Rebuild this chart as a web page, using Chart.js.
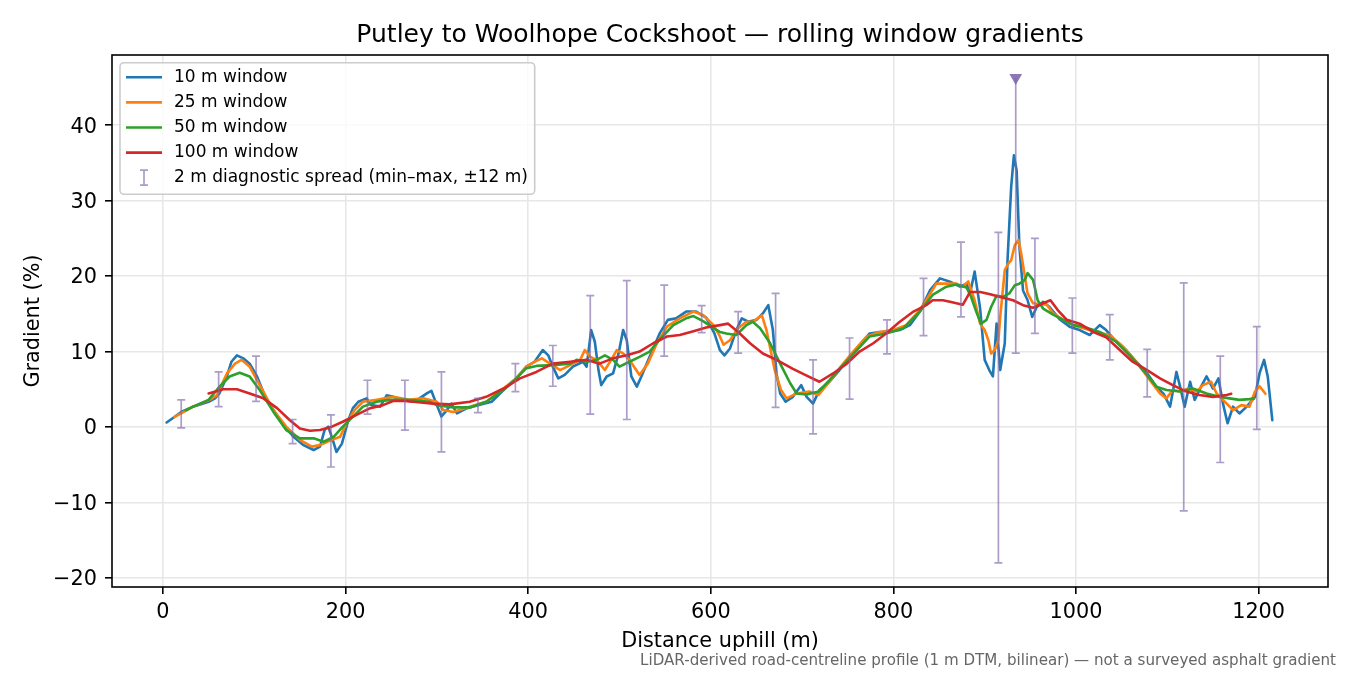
<!DOCTYPE html>
<html>
<head>
<meta charset="utf-8">
<script src="https://cdn.jsdelivr.net/npm/chart.js@4.4.1/dist/chart.umd.min.js"></script>
<style>
  html, body { margin: 0; padding: 0; background: #fff; }
  #wrap { width: 1350px; height: 675px; position: relative; }
</style>
</head>
<body>
<div id="wrap"><canvas id="grad"></canvas></div>
<script>
// distance (m), gradient (%)
const win10 = [[4,0.6],[11,1.2],[20,2.0],[33,2.7],[50,3.35],[57,3.8],[62,4.5],[70,6.7],[75,8.65],[81,9.5],[88,9.1],[95,8.4],[103,6.7],[112,4.0],[121,2.25],[132,0.3],[143,-1.3],[154,-2.4],[165,-3.05],[172,-2.6],[177,-0.4],[181,0.05],[186,-1.7],[190,-3.3],[196,-2.2],[203,0.9],[208,2.5],[214,3.35],[223,3.8],[228,2.9],[238,2.7],[245,4.2],[252,4.0],[263,3.6],[274,3.35],[281,3.8],[289,4.45],[294,4.8],[299,3.2],[305,1.4],[311,2.25],[316,3.1],[322,1.8],[333,2.5],[345,2.9],[360,3.35],[373,4.9],[387,6.45],[398,8.0],[407,8.65],[416,10.2],[422,9.5],[427,8.0],[433,6.45],[440,6.9],[449,8.0],[460,8.65],[464,8.0],[469,12.85],[473,11.3],[477,7.55],[480,5.55],[486,6.7],[493,7.1],[499,9.75],[504,12.85],[508,11.5],[513,6.7],[519,5.35],[524,6.7],[533,9.3],[544,12.4],[553,14.2],[562,14.4],[573,15.3],[584,15.3],[595,14.5],[604,12.4],[610,10.2],[615,9.5],[621,10.4],[628,12.85],[634,14.4],[641,13.95],[650,14.2],[657,15.05],[663,16.15],[668,12.85],[672,7.1],[676,4.45],[682,3.35],[690,4.0],[699,5.55],[705,4.0],[712,3.1],[719,4.9],[730,6.0],[741,7.55],[752,9.3],[763,10.9],[774,12.4],[785,12.6],[796,12.6],[807,12.85],[818,13.5],[829,15.3],[840,18.1],[851,19.7],[862,19.25],[873,18.6],[880,19.0],[884,17.7],[889,20.6],[895,15.7],[900,8.9],[905,7.55],[909,6.7],[913,13.7],[917,7.55],[922,11.1],[925,22.1],[929,31.8],[932,36.0],[935,34.0],[938,23.9],[942,18.1],[947,16.8],[952,14.6],[957,15.9],[964,16.6],[971,15.9],[982,14.3],[993,13.3],[1004,12.85],[1015,12.2],[1026,13.5],[1033,12.85],[1044,11.3],[1055,10.2],[1066,8.65],[1077,7.3],[1088,5.35],[1096,4.4],[1103,2.7],[1110,7.3],[1114,5.35],[1119,2.7],[1125,6.0],[1130,3.6],[1137,5.35],[1143,6.7],[1150,5.1],[1156,6.45],[1161,3.1],[1166,0.5],[1172,2.7],[1179,1.8],[1187,2.7],[1196,4.0],[1201,7.1],[1206,8.9],[1210,6.7],[1215,0.9]];
const win25 = [[12.5,1.3],[33,2.7],[51,3.6],[59,4.2],[70,7.1],[79,8.4],[86,8.9],[95,8.0],[106,5.55],[121,2.25],[135,0.05],[150,-1.7],[163,-2.6],[172,-2.4],[185,-1.7],[194,-1.3],[201,0.5],[210,2.25],[219,3.35],[234,3.6],[252,4.0],[270,3.6],[285,3.8],[300,3.35],[307,2.25],[318,2.0],[336,2.7],[354,3.35],[373,5.1],[387,6.45],[398,8.0],[407,8.65],[415,9.1],[424,8.4],[435,7.55],[446,8.2],[457,8.9],[462,10.2],[468,9.3],[475,8.9],[484,7.55],[491,8.9],[497,10.2],[504,9.75],[511,8.9],[517,7.8],[522,6.9],[531,8.4],[541,11.1],[552,13.3],[566,14.4],[581,15.3],[592,14.8],[603,13.5],[610,12.0],[614,10.9],[621,11.5],[630,13.1],[639,13.95],[646,13.95],[656,14.8],[661,12.85],[670,7.55],[677,4.9],[683,3.8],[694,4.45],[708,4.7],[718,4.25],[730,6.0],[741,7.8],[756,10.0],[771,12.0],[785,12.6],[800,12.85],[814,13.5],[829,15.5],[840,17.6],[847,19.0],[858,19.0],[869,19.0],[876,18.6],[882,19.3],[889,16.8],[895,13.7],[900,12.85],[904,11.5],[907,9.75],[911,10.2],[915,11.5],[917,14.6],[922,20.8],[926,21.7],[929,22.1],[933,24.1],[937,24.8],[940,23.0],[944,19.9],[947,17.7],[953,16.4],[960,16.3],[968,16.2],[975,15.05],[986,14.2],[997,13.5],[1008,13.1],[1022,12.6],[1037,12.2],[1052,10.6],[1066,8.65],[1081,6.2],[1092,4.45],[1099,3.8],[1106,4.9],[1114,4.7],[1123,5.1],[1132,4.7],[1139,5.55],[1148,6.0],[1154,4.45],[1163,3.35],[1172,2.25],[1181,2.9],[1190,2.7],[1196,4.7],[1201,5.4],[1207.5,4.4]];
const win50 = [[25,2.2],[33,2.7],[50,3.6],[62,5.35],[73,6.7],[84,7.2],[95,6.7],[106,4.9],[121,2.0],[135,-0.4],[150,-1.5],[165,-1.5],[176,-1.95],[187,-1.3],[197,0.05],[208,1.35],[219,2.7],[234,3.35],[249,3.6],[270,3.6],[292,3.35],[300,2.9],[318,2.6],[336,2.6],[354,3.35],[373,4.9],[387,6.45],[398,7.8],[409,8.1],[427,8.2],[446,8.4],[453,8.9],[464,8.65],[475,8.9],[484,9.5],[493,8.9],[500,8.0],[511,8.65],[522,9.3],[533,10.0],[544,11.6],[559,13.5],[573,14.4],[581,14.7],[592,14.0],[603,13.1],[610,12.6],[617,12.4],[628,12.2],[639,13.5],[646,13.95],[654,13.1],[665,11.1],[676,8.4],[687,5.8],[694,4.45],[705,4.3],[718,4.7],[730,6.2],[745,8.2],[760,10.2],[774,12.0],[792,12.4],[811,13.1],[829,15.3],[843,17.5],[858,18.6],[869,18.9],[880,18.5],[885,17.3],[891,15.2],[896,13.7],[902,14.2],[907,15.9],[913,17.4],[920,17.25],[927,17.7],[933,18.8],[938,19.0],[944,19.5],[947,20.4],[953,19.5],[958,16.8],[964,15.7],[975,14.9],[986,14.2],[997,13.5],[1008,13.3],[1026,12.6],[1044,11.3],[1062,9.1],[1077,7.05],[1088,5.35],[1099,4.9],[1114,4.7],[1128,5.1],[1143,4.45],[1157,4.0],[1168,3.8],[1179,3.6],[1190,3.7],[1195,3.8]];
const win100 = [[50,4.45],[66,5.0],[81,5.0],[95,4.45],[110,3.8],[125,2.5],[139,0.9],[150,-0.2],[161,-0.5],[172,-0.4],[185,0.05],[197,0.7],[212,1.6],[227,2.5],[241,2.9],[252,3.45],[265,3.45],[274,3.35],[296,3.1],[314,3.0],[336,3.35],[354,4.0],[373,5.1],[391,6.45],[409,7.3],[427,8.4],[446,8.65],[464,8.9],[478,8.4],[493,9.1],[508,9.5],[522,10.0],[537,11.1],[552,12.0],[566,12.2],[581,12.7],[595,13.2],[610,13.5],[619,13.7],[630,12.6],[643,11.1],[657,9.75],[672,8.9],[690,7.7],[705,6.8],[719,6.0],[734,7.1],[749,8.4],[763,10.0],[778,11.1],[792,12.4],[807,13.95],[822,15.3],[836,16.15],[843,16.8],[854,16.8],[862,16.6],[869,16.4],[876,16.2],[884,17.9],[895,17.9],[906,17.6],[916,17.25],[931,16.8],[942,16.15],[953,15.8],[964,16.4],[972,16.8],[980,15.5],[990,14.2],[1004,13.7],[1019,12.6],[1033,11.9],[1048,10.2],[1062,8.65],[1077,7.6],[1092,6.45],[1106,5.55],[1121,4.7],[1135,4.25],[1150,4.0],[1165,4.25],[1170,4.4]];

// 2 m diagnostic spread, min and max over +-12 m
const spreadDist = [20, 61, 102, 142, 184, 224, 265, 305, 345, 386, 427, 468, 508, 549, 590, 630, 671, 712, 752, 793, 833, 874, 915, 955, 996, 1037, 1078, 1118, 1158, 1198];
const spreadMin  = [-0.1, 2.7, 3.4, -2.2, -5.3, 1.7, -0.4, -3.3, 1.9, 4.7, 5.4, 1.7, 1.0, 9.4, 12.5, 9.8, 2.6, -0.9, 3.7, 9.7, 12.1, 14.6, -18.0, 12.4, 9.8, 8.9, 4.0, -11.1, -4.7, -0.3];
const spreadMax  = [3.6, 7.3, 9.4, 1.0, 1.6, 6.2, 6.2, 7.3, 3.8, 8.4, 10.8, 17.4, 19.4, 18.8, 16.1, 15.3, 17.7, 8.9, 11.8, 14.2, 19.7, 24.5, 25.8, 25.0, 17.1, 14.9, 10.3, 19.1, 9.4, 13.3];
// spread running off the top of the plot
const spikeDist = 934, spikeMin = 9.8, spikeMark = 46.3;

const xTickVals = [0, 200, 400, 600, 800, 1000, 1200];
const yTickVals = [-20, -10, 0, 10, 20, 30, 40];

const seriesNames = ['10 m window', '25 m window', '50 m window', '100 m window'];
const seriesColors = ['#1f77b4', '#ff7f0e', '#2ca02c', '#d62728'];
const spreadLabel = '2 m diagnostic spread (min\u2013max, \u00b112 m)';
const spreadColor = 'rgba(128,105,170,0.65)';

const FONT = "'DejaVu Sans', sans-serif";
Chart.defaults.font.family = FONT;

const toPts = arr => arr.map(p => ({x: p[0], y: p[1]}));

// draw the min-max spread bars on top of the lines
const spreadBars = {
    id: 'spreadBars',
    afterDatasetsDraw(chart) {
        const {ctx, chartArea: a, scales: {x, y}} = chart;
        const cap = 4;
        ctx.save();
        ctx.beginPath();
        ctx.rect(a.left, a.top, a.width, a.height);
        ctx.clip();
        ctx.strokeStyle = spreadColor;
        ctx.lineWidth = 1.7;
        ctx.beginPath();
        spreadDist.forEach((d, i) => {
            const px = x.getPixelForValue(d);
            const lo = y.getPixelForValue(spreadMin[i]);
            const hi = y.getPixelForValue(spreadMax[i]);
            ctx.moveTo(px, lo); ctx.lineTo(px, hi);
            ctx.moveTo(px - cap, lo); ctx.lineTo(px + cap, lo);
            ctx.moveTo(px - cap, hi); ctx.lineTo(px + cap, hi);
        });
        const sx = x.getPixelForValue(spikeDist);
        const slo = y.getPixelForValue(spikeMin);
        ctx.moveTo(sx, slo); ctx.lineTo(sx, y.getPixelForValue(spikeMark));
        ctx.moveTo(sx - cap, slo); ctx.lineTo(sx + cap, slo);
        ctx.stroke();
        ctx.restore();
    }
};

// frame, title, labels, legend, note
const decorations = {
    id: 'decorations',
    afterDraw(chart) {
        const {ctx, chartArea: a} = chart;
        ctx.save();
        ctx.strokeStyle = '#000';
        ctx.lineWidth = 1.6;
        ctx.strokeRect(a.left, a.top, a.width, a.height);

        const cx = (a.left + a.right) / 2;
        ctx.fillStyle = '#000';
        ctx.textAlign = 'center';
        ctx.textBaseline = 'alphabetic';
        ctx.font = '25px ' + FONT;
        ctx.fillText('Putley to Woolhope Cockshoot \u2014 rolling window gradients', cx, 42);

        ctx.font = '20.8px ' + FONT;
        ctx.fillText('Distance uphill (m)', cx, 647);
        ctx.save();
        ctx.translate(34, (a.top + a.bottom) / 2);
        ctx.rotate(-Math.PI / 2);
        ctx.textBaseline = 'middle';
        ctx.fillText('Gradient (%)', 0, 0);
        ctx.restore();

        ctx.fillStyle = '#666';
        ctx.textAlign = 'right';
        ctx.font = '15.1px ' + FONT;
        ctx.fillText('LiDAR-derived road-centreline profile (1 m DTM, bilinear) \u2014 not a surveyed asphalt gradient', 1336, 665);

        // legend box
        const bx = 120, by = 62.7, bw = 414.7, bh = 131.6;
        ctx.fillStyle = 'rgba(255,255,255,0.8)';
        ctx.strokeStyle = '#cccccc';
        ctx.lineWidth = 1.6;
        ctx.beginPath();
        ctx.roundRect(bx, by, bw, bh, 4);
        ctx.fill();
        ctx.stroke();

        ctx.font = '17px ' + FONT;
        ctx.textAlign = 'left';
        ctx.textBaseline = 'middle';
        const rowY = i => 77.3 + i * 25.1;
        seriesNames.forEach((name, i) => {
            ctx.strokeStyle = seriesColors[i];
            ctx.lineWidth = 2.6;
            ctx.beginPath();
            ctx.moveTo(126, rowY(i)); ctx.lineTo(162, rowY(i));
            ctx.stroke();
            ctx.fillStyle = '#000';
            ctx.fillText(name, 174, rowY(i));
        });
        const ey = rowY(4);
        ctx.strokeStyle = spreadColor;
        ctx.lineWidth = 1.7;
        ctx.beginPath();
        ctx.moveTo(144, ey - 7.5); ctx.lineTo(144, ey + 7.5);
        ctx.moveTo(140, ey - 7.5); ctx.lineTo(148, ey - 7.5);
        ctx.moveTo(140, ey + 7.5); ctx.lineTo(148, ey + 7.5);
        ctx.stroke();
        ctx.fillStyle = '#000';
        ctx.fillText(spreadLabel, 174, ey);
        ctx.restore();
    }
};

const lineSets = [win10, win25, win50, win100].map((s, i) => ({
    type: 'line',
    label: seriesNames[i],
    data: toPts(s),
    borderColor: seriesColors[i],
    backgroundColor: seriesColors[i],
    borderWidth: 2.6,
    borderJoinStyle: 'round',
    borderCapStyle: 'round',
    pointRadius: 0,
    tension: 0,
    fill: false,
    order: 4 - i
}));

const spikeSet = {
    type: 'scatter',
    label: 'spike',
    data: [{x: spikeDist, y: spikeMark}],
    pointStyle: 'triangle',
    rotation: 180,
    pointRadius: 7.3,
    backgroundColor: 'rgba(128,105,170,0.9)',
    borderColor: 'rgba(128,105,170,0.9)',
    borderWidth: 0,
    order: 0
};

const grid = {
    color: '#e7e7e7',
    lineWidth: 1.6,
    drawTicks: true,
    tickLength: 7,
    tickColor: '#000',
    tickWidth: 1.6
};

new Chart(document.getElementById('grad'), {
    type: 'line',
    data: { datasets: [...lineSets, spikeSet] },
    options: {
        responsive: true,
        maintainAspectRatio: false,
        animation: false,
        layout: { padding: { top: 55, right: 22, left: 0, bottom: 0 } },
        plugins: {
            legend: { display: false },
            tooltip: { enabled: false },
            title: { display: false }
        },
        scales: {
            x: {
                type: 'linear',
                min: -55.8,
                max: 1276,
                grid: grid,
                border: { display: false },
                afterBuildTicks: s => { s.ticks = xTickVals.map(v => ({value: v})); },
                afterFit: s => { s.height = 88; },
                ticks: {
                    color: '#000',
                    font: { size: 20.8 },
                    padding: 6,
                    maxRotation: 0,
                    callback: v => String(v)
                }
            },
            y: {
                type: 'linear',
                min: -21.2,
                max: 49.3,
                grid: grid,
                border: { display: false },
                afterBuildTicks: s => { s.ticks = yTickVals.map(v => ({value: v})); },
                afterFit: s => { s.width = 112; },
                ticks: {
                    color: '#000',
                    font: { size: 20.8 },
                    padding: 8,
                    labelOffset: 2,
                    callback: v => v < 0 ? '\u2212' + Math.abs(v) : String(v)
                }
            }
        }
    },
    plugins: [spreadBars, decorations]
});
</script>
</body>
</html>
